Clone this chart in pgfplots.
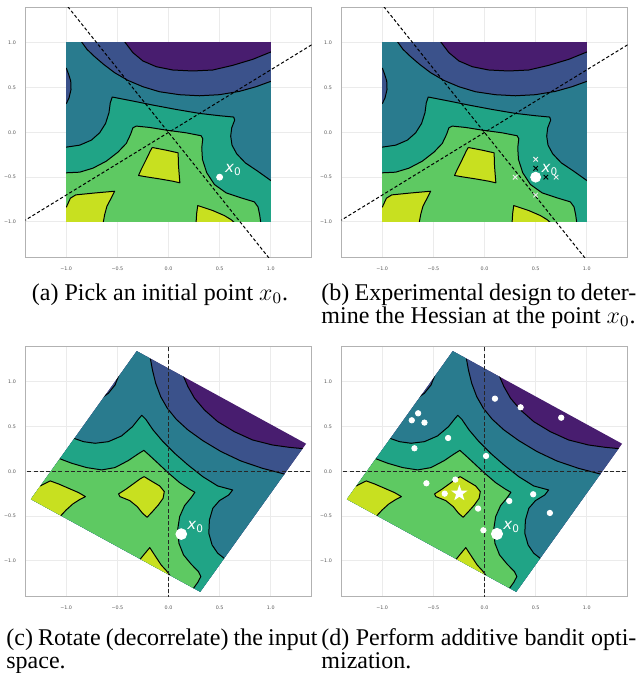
\documentclass[border=0pt]{standalone}
\usepackage{fontspec}
\setmainfont{Liberation Serif}
\newfontfamily\dejavu{DejaVu Sans}
\usepackage{pgfplots}
\pgfplotsset{compat=1.18}
\definecolor{c0}{HTML}{481D6F}
\definecolor{c1}{HTML}{3B528B}
\definecolor{c2}{HTML}{297B8E}
\definecolor{c3}{HTML}{20A486}
\definecolor{c4}{HTML}{5EC962}
\definecolor{c5}{HTML}{C8E020}
\definecolor{gridc}{HTML}{EBEBEB}
\definecolor{tickc}{HTML}{555555}
\pgfdeclareplotmark{fstar}{%
  \pgfpathmoveto{\pgfpointpolar{90}{\pgfplotmarksize}}%
  \pgfpathlineto{\pgfpointpolar{126}{0.4\pgfplotmarksize}}%
  \pgfpathlineto{\pgfpointpolar{162}{\pgfplotmarksize}}%
  \pgfpathlineto{\pgfpointpolar{198}{0.4\pgfplotmarksize}}%
  \pgfpathlineto{\pgfpointpolar{234}{\pgfplotmarksize}}%
  \pgfpathlineto{\pgfpointpolar{270}{0.4\pgfplotmarksize}}%
  \pgfpathlineto{\pgfpointpolar{306}{\pgfplotmarksize}}%
  \pgfpathlineto{\pgfpointpolar{342}{0.4\pgfplotmarksize}}%
  \pgfpathlineto{\pgfpointpolar{18}{\pgfplotmarksize}}%
  \pgfpathlineto{\pgfpointpolar{54}{0.4\pgfplotmarksize}}%
  \pgfpathclose\pgfusepathqfill}
\tikzset{
  reg/.style={draw=black, line width=0.5pt, line join=round},
  lab/.style={text=white, anchor=base west, inner sep=0pt, font=\dejavu\fontsize{7.5}{8}\selectfont},
}
\pgfplotsset{
  panel/.style={
    scale only axis, width=143.2pt, height=125.25pt,
    xmin=-1.4, xmax=1.4, ymin=-1.4, ymax=1.4,
    xtick={-1,-0.5,0,0.5,1}, ytick={-1,-0.5,0,0.5,1},
    xticklabels={−1.0,−0.5,0.0,0.5,1.0},
    yticklabels={−1.0,−0.5,0.0,0.5,1.0},
    grid=major, grid style={draw=gridc, line width=0.5pt},
    axis line style={draw=gray!60, line width=0.7pt},
    major tick length=0pt,
    ticklabel style={font=\dejavu\fontsize{2.4}{2.8}\selectfont, text=tickc},
    xticklabel style={yshift=-1.2pt},
    yticklabel style={xshift=-1.2pt},
    anchor=south west,
  },
}
\newcommand{\flatregions}{%
  \begin{scope}
  \clip (axis cs:-1,-1) rectangle (axis cs:1,1);
  \addplot[fill=c0, draw=none] coordinates {(-1.2,-1.2) (1.2,-1.2) (1.2,1.2) (-1.2,1.2)};
  \addplot[reg, fill=c1] coordinates {(-0.47,1.08) (-0.42,1.0) (-0.348,0.892) (-0.25,0.799) (-0.12,0.735) (0.042,0.698) (0.237,0.687) (0.433,0.698) (0.628,0.750) (0.823,0.817) (1.0,0.899) (1.08,0.936) (1.2,-1.2) (-1.2,-1.2) (-1.2,1.08) (-0.47,1.08)};
  \addplot[reg, fill=c2] coordinates {(-0.88,1.06) (-0.842,1.0) (-0.797,0.929) (-0.722,0.847) (-0.634,0.761) (-0.527,0.668) (-0.397,0.582) (-0.25,0.511) (-0.088,0.455) (0.107,0.422) (0.302,0.41) (0.498,0.422) (0.693,0.459) (0.855,0.511) (1.0,0.571) (1.08,0.60) (1.2,-1.2) (-1.2,-1.2) (-1.2,0.30) (-1.05,0.30) (-0.998,0.325) (-0.972,0.388) (-0.953,0.481) (-0.956,0.575) (-0.976,0.649) (-0.998,0.716) (-1.05,0.74) (-1.2,0.74) (-1.2,1.06) (-0.88,1.06)};
  \addplot[reg, fill=c3] coordinates {(-1.05,-0.17) (-0.998,-0.164) (-0.868,-0.142) (-0.754,-0.086) (-0.673,-0.004) (-0.615,0.101) (-0.582,0.22) (-0.569,0.332) (-0.55,0.396) (-0.348,0.351) (-0.153,0.306) (0.075,0.257) (0.302,0.213) (0.498,0.187) (0.637,0.172) (0.647,0.138) (0.618,0.052) (0.608,-0.041) (0.621,-0.142) (0.667,-0.239) (0.751,-0.34) (0.872,-0.433) (1.0,-0.537) (1.06,-0.565) (1.2,-1.2) (-1.2,-1.2) (-1.2,-0.17) (-1.05,-0.17)};
  \addplot[reg, fill=c4] coordinates {(-1.05,-0.455) (-0.998,-0.451) (-0.868,-0.444) (-0.738,-0.399) (-0.608,-0.321) (-0.494,-0.22) (-0.413,-0.123) (-0.371,-0.022) (-0.348,0.052) (-0.315,0.071) (-0.185,0.056) (-0.023,0.026) (0.172,-0.004) (0.319,-0.037) (0.335,-0.071) (0.325,-0.172) (0.332,-0.302) (0.374,-0.451) (0.449,-0.582) (0.563,-0.675) (0.709,-0.731) (0.839,-0.776) (0.875,-0.832) (0.891,-0.918) (0.901,-1.0) (0.905,-1.06) (0.905,-1.2) (-1.2,-1.2) (-1.2,-0.455) (-1.05,-0.455)};
  \addplot[reg, fill=c5] coordinates {(-0.159,-0.168) (-0.023,-0.198) (0.094,-0.228) (0.098,-0.377) (0.111,-0.563) (0.042,-0.545) (-0.088,-0.519) (-0.218,-0.496) (-0.293,-0.481) (-0.267,-0.414) (-0.218,-0.302) (-0.179,-0.209) (-0.159,-0.168)};
  \addplot[reg, fill=c5] coordinates {(-1.05,-0.86) (-0.998,-0.832) (-0.959,-0.735) (-0.907,-0.698) (-0.706,-0.675) (-0.527,-0.657) (-0.559,-0.731) (-0.602,-0.825) (-0.624,-0.918) (-0.637,-1.0) (-0.64,-1.06) (-1.2,-1.2) (-1.2,-0.86) (-1.05,-0.86)};
  \addplot[reg, fill=c5] coordinates {(0.27,-1.06) (0.27,-1.0) (0.276,-0.899) (0.286,-0.817) (0.433,-0.873) (0.546,-0.929) (0.611,-0.974) (0.637,-1.0) (0.66,-1.02) (0.66,-1.2) (0.27,-1.2) (0.27,-1.06)};
  \end{scope}
  \addplot[black, line width=0.5pt, dash pattern=on 1.6pt off 1.1pt] coordinates {(-1.05,1.5) (1.05,-1.5)};
  \addplot[black, line width=0.5pt, dash pattern=on 1.6pt off 1.1pt] coordinates {(-1.6,-1.12) (1.6,1.12)};
}
\newcommand{\rotregions}{%
  \begin{scope}
  \clip (axis cs:-0.31,1.345) -- (axis cs:1.345,0.31) -- (axis cs:0.31,-1.345) -- (axis cs:-1.345,-0.31) -- cycle;
  \addplot[fill=c0, draw=none] coordinates {(-1.6,-1.6) (1.6,-1.6) (1.6,1.6) (-1.6,1.6)};
  \addplot[reg, fill=c1] coordinates {(0.12,1.14) (0.151,1.052) (0.19,0.948) (0.254,0.819) (0.352,0.687) (0.481,0.557) (0.643,0.445) (0.822,0.352) (1.016,0.296) (1.178,0.27) (1.315,0.255) (1.40,0.245) (1.6,-1.6) (-1.6,-1.6) (-1.6,1.6) (0.12,1.6) (0.12,1.14)};
  \addplot[reg, fill=c2] coordinates {(-0.19,1.33) (-0.177,1.261) (-0.157,1.134) (-0.125,0.985) (-0.076,0.836) (-0.011,0.706) (0.076,0.583) (0.19,0.464) (0.335,0.345) (0.514,0.222) (0.708,0.117) (0.919,0.035) (1.13,-0.028) (1.19,-0.045) (1.19,-1.6) (-1.6,-1.6) (-1.6,0.79) (-0.71,0.79) (-0.653,0.821) (-0.588,0.874) (-0.523,0.966) (-0.491,1.059) (-0.475,1.109) (-0.46,1.16) (-0.46,1.6) (-0.19,1.6) (-0.19,1.33)};
  \addplot[reg, fill=c3] coordinates {(-0.98,0.39) (-0.916,0.367) (-0.831,0.333) (-0.718,0.315) (-0.588,0.333) (-0.459,0.397) (-0.352,0.501) (-0.287,0.594) (-0.261,0.628) (-0.222,0.583) (-0.151,0.464) (-0.054,0.333) (0.06,0.203) (0.19,0.073) (0.335,-0.058) (0.481,-0.162) (0.627,-0.207) (0.589,-0.263) (0.498,-0.326) (0.433,-0.412) (0.4,-0.542) (0.394,-0.691) (0.426,-0.821) (0.481,-0.914) (0.556,-0.981) (0.60,-1.04) (0.60,-1.6) (-1.6,-1.6) (-1.6,0.39) (-0.98,0.39)};
  \addplot[reg, fill=c4] coordinates {(-1.13,0.16) (-1.065,0.143) (-0.945,0.091) (-0.799,0.043) (-0.653,0.017) (-0.524,0.043) (-0.394,0.121) (-0.297,0.196) (-0.241,0.236) (-0.19,0.184) (-0.102,0.091) (-0.005,-0.013) (0.109,-0.125) (0.206,-0.199) (0.258,-0.233) (0.222,-0.292) (0.157,-0.382) (0.109,-0.505) (0.089,-0.654) (0.102,-0.803) (0.147,-0.933) (0.222,-1.037) (0.293,-1.119) (0.316,-1.175) (0.287,-1.238) (0.245,-1.305) (0.22,-1.38) (0.22,-1.6) (-1.6,-1.6) (-1.6,0.16) (-1.13,0.16)};
  \addplot[reg, fill=c5] coordinates {(-1.32,-0.14) (-1.253,-0.162) (-1.204,-0.132) (-1.156,-0.106) (-1.074,-0.14) (-0.977,-0.188) (-0.88,-0.236) (-0.812,-0.281) (-0.864,-0.311) (-0.935,-0.363) (-1.0,-0.43) (-1.049,-0.49) (-1.07,-0.56) (-1.6,-0.56) (-1.6,-0.14) (-1.32,-0.14)};
  \addplot[reg, fill=c5] coordinates {(-0.238,-0.058) (-0.157,-0.114) (-0.086,-0.162) (-0.041,-0.225) (-0.053,-0.3) (-0.099,-0.374) (-0.157,-0.449) (-0.209,-0.512) (-0.254,-0.467) (-0.306,-0.393) (-0.378,-0.326) (-0.475,-0.281) (-0.488,-0.251) (-0.417,-0.199) (-0.336,-0.132) (-0.274,-0.08) (-0.238,-0.058)};
  \addplot[reg, fill=c5] coordinates {(-0.30,-1.04) (-0.277,-0.981) (-0.232,-0.918) (-0.183,-0.851) (-0.134,-0.937) (-0.07,-1.048) (-0.021,-1.108) (0.011,-1.157) (0.03,-1.24) (0.03,-1.6) (-0.30,-1.6) (-0.30,-1.04)};
  \end{scope}
  \addplot[black!85, line width=0.65pt, dash pattern=on 2pt off 1.1pt] coordinates {(0,-1.5) (0,1.5)};
  \addplot[black!85, line width=0.65pt, dash pattern=on 2pt off 1.1pt] coordinates {(-1.5,0) (1.5,0)};
}
\begin{document}
\begin{tikzpicture}
\path[use as bounding box] (0pt,0pt) rectangle (319pt,-336.5pt);
% (a)
\begin{axis}[panel, at={(12.65pt,-128.85pt)}]
\flatregions
\addplot[only marks, mark=*, mark size=1.5pt, white] coordinates {(0.5,-0.5)};
\node[lab] at (axis cs:0.55,-0.45) {\textit{x}\textsubscript{0}};
\end{axis}
% (b)
\begin{axis}[panel, at={(170.65pt,-128.85pt)}]
\flatregions
\addplot[only marks, mark=x, mark size=1.6pt, white!85!gray, line width=0.45pt] coordinates {(0.5,-0.3) (0.3,-0.5) (0.7,-0.5) (0.5,-0.7)};
\addplot[only marks, mark=x, mark size=1.6pt, black, line width=0.45pt] coordinates {(0.5,-0.4) (0.6,-0.5)};
\addplot[only marks, mark=*, mark size=2.5pt, white] coordinates {(0.5,-0.5)};
\node[lab] at (axis cs:0.555,-0.45) {\textit{x}\textsubscript{0}};
\end{axis}
% (c)
\begin{axis}[panel, at={(12.65pt,-298.35pt)}]
\rotregions
\addplot[only marks, mark=*, mark size=2.7pt, white] coordinates {(0.125,-0.70)};
\node[lab] at (axis cs:0.18,-0.654) {\textit{x}\textsubscript{0}};
\end{axis}
% (d)
\begin{axis}[panel, at={(170.65pt,-298.35pt)}]
\rotregions
\addplot[only marks, mark=*, mark size=1.35pt, white] coordinates {(0.102,0.814) (0.353,0.717) (0.75,0.601) (-0.649,0.65) (-0.711,0.572) (-0.587,0.546) (-0.356,0.374) (-0.685,0.259) (0.015,0.173) (-0.568,-0.132) (-0.285,-0.091) (-0.389,-0.248) (-0.063,-0.415) (0.242,-0.33) (0.476,-0.255) (0.639,-0.464) (-0.011,-0.657)};
\addplot[only marks, mark=fstar, mark size=4.3pt, white, mark options={fill=white}] coordinates {(-0.246,-0.244)};
\addplot[only marks, mark=*, mark size=2.8pt, white] coordinates {(0.122,-0.698)};
\node[lab] at (axis cs:0.18,-0.654) {\textit{x}\textsubscript{0}};
\end{axis}
% captions
\begin{scope}[every node/.style={inner sep=0pt, anchor=base west, font=\fontsize{12}{12}\selectfont}]
\node[anchor=base] at (80pt,-150pt) {(a) Pick an initial point $x_0$.};
\node at (160.5pt,-150pt) {\makebox[157.5pt][s]{(b) Experimental design to deter-}};
\node at (160.5pt,-161.5pt) {mine the Hessian at the point $x_0$.};
\node at (3pt,-322.5pt) {\makebox[155.5pt][s]{(c) Rotate (decorrelate) the input}};
\node at (3pt,-334pt) {space.};
\node at (160.5pt,-322.5pt) {\makebox[157.5pt][s]{(d) Perform additive bandit opti-}};
\node at (160.5pt,-334pt) {mization.};
\end{scope}
\end{tikzpicture}
\end{document}
